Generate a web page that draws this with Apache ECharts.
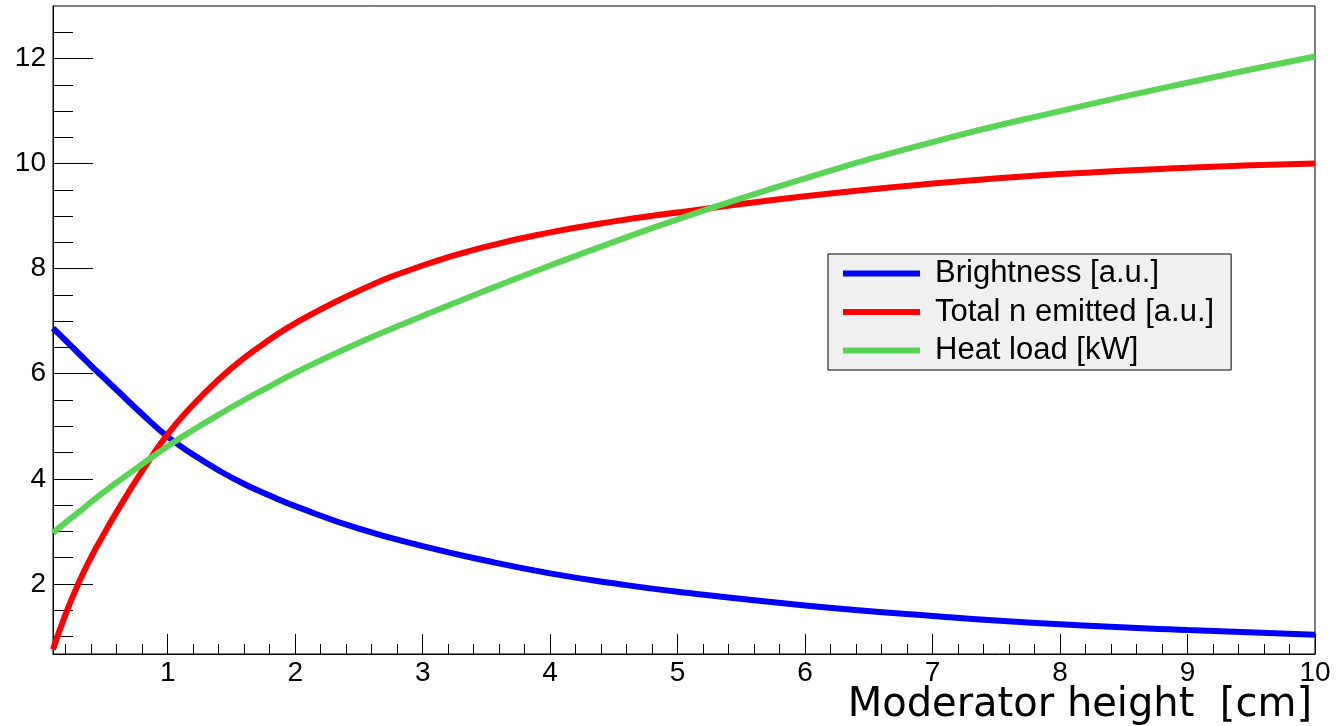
<!DOCTYPE html>
<html>
<head>
<meta charset="utf-8">
<script src="https://cdn.jsdelivr.net/npm/echarts@6/dist/echarts.min.js"></script>
<style>
html,body{margin:0;padding:0;background:#fff;}
#chart{width:1336px;height:726px;}
</style>
</head>
<body>
<div id="chart"></div>
<script>
// ---- data ----
const heights = [0.1,0.2,0.3,0.4,0.5,0.6,0.8,1.0,1.2,1.4,1.6,1.8,2.0,2.5,3,3.5,4,4.5,5,6,7,8,9,10];
const brightness = [6.87,6.63,6.39,6.15,5.92,5.69,5.23,4.8,4.46,4.16,3.9,3.68,3.48,3.05,2.72,2.44,2.2,2.01,1.85,1.59,1.39,1.23,1.12,1.03];
const totalN     = [0.75,1.43,2.01,2.51,2.95,3.37,4.15,4.85,5.41,5.89,6.3,6.65,6.96,7.58,8.06,8.42,8.69,8.9,9.07,9.38,9.62,9.8,9.92,10.0];
const heatLoad   = [2.97,3.17,3.36,3.56,3.75,3.93,4.28,4.62,4.93,5.22,5.5,5.76,6.02,6.59,7.1,7.59,8.06,8.51,8.94,9.72,10.41,11.0,11.54,12.04];
const seriesNames = ['Brightness [a.u.]','Total n emitted [a.u.]','Heat load [kW]'];
const xMajorTicks = [1,2,3,4,5,6,7,8,9,10];
const xMinorTicks = [0.2,0.4,0.6,0.8,1.2,1.4,1.6,1.8,2.2,2.4,2.6,2.8,3.2,3.4,3.6,3.8,4.2,4.4,4.6,4.8,5.2,5.4,5.6,5.8,6.2,6.4,6.6,6.8,7.2,7.4,7.6,7.8,8.2,8.4,8.6,8.8,9.2,9.4,9.6,9.8];
const yMajorTicks = [2,4,6,8,10,12];
const yMinorTicks = [1,1.5,2.5,3,3.5,4.5,5,5.5,6.5,7,7.5,8.5,9,9.5,10.5,11,11.5,12.5];
const xTitle = 'Moderator height  [cm]';

const X_MIN = 0.1, X_MAX = 10, Y_MIN = 0.665, Y_MAX = 13.0;
const colors = ['#0000ff','#ff0000','#59d454'];
const lblFont = 'Liberation Sans, Arial, sans-serif';

function pairs(ys){ return heights.map((x,i)=>[x,ys[i]]); }

const chart = echarts.init(document.getElementById('chart'), null, {renderer:'canvas'});
chart.setOption({
  animation:false,
  backgroundColor:'#fff',
  grid:{left:53,right:21,top:6,bottom:72,containLabel:false,outerBoundsMode:'none',
        show:true,borderColor:'#000',borderWidth:1,backgroundColor:'transparent'},
  legend:{
    orient:'vertical',
    left:828, top:254,
    data:seriesNames,
    icon:'rect',
    itemWidth:77, itemHeight:6, itemGap:7.5,
    padding:[4,17,4,15],
    backgroundColor:'#f0f0f0',
    borderColor:'#000', borderWidth:1,
    textStyle:{fontFamily:lblFont,fontSize:31,color:'#000',lineHeight:30,padding:[0,0,0,10]}
  },
  xAxis:[
    {type:'value',min:X_MIN,max:X_MAX,position:'bottom',
     axisLine:{show:true,lineStyle:{color:'#000',width:1}},
     axisTick:{show:true,inside:true,length:20,customValues:xMajorTicks,lineStyle:{color:'#000',width:1}},
     axisLabel:{show:true,customValues:xMajorTicks,fontFamily:lblFont,fontSize:28,color:'#000',margin:5},
     splitLine:{show:false},
     name:xTitle,nameLocation:'end',nameGap:-3,nameMoveOverlap:false,
     nameTextStyle:{fontFamily:'DejaVu Sans',fontSize:40,color:'#000',align:'right',verticalAlign:'top',lineHeight:40,padding:[32,0,0,0]}
    },
    {type:'value',min:X_MIN,max:X_MAX,position:'bottom',
     axisLine:{show:false},
     axisTick:{show:true,inside:true,length:10,customValues:xMinorTicks,lineStyle:{color:'#000',width:1}},
     axisLabel:{show:false},splitLine:{show:false}}
  ],
  yAxis:[
    {type:'value',min:Y_MIN,max:Y_MAX,position:'left',
     axisLine:{show:true,lineStyle:{color:'#000',width:1}},
     axisTick:{show:true,inside:true,length:40,customValues:yMajorTicks,lineStyle:{color:'#000',width:1}},
     axisLabel:{show:true,customValues:yMajorTicks,fontFamily:lblFont,fontSize:28,color:'#000',margin:7},
     splitLine:{show:false}},
    {type:'value',min:Y_MIN,max:Y_MAX,position:'left',
     axisLine:{show:false},
     axisTick:{show:true,inside:true,length:20,customValues:yMinorTicks,lineStyle:{color:'#000',width:1}},
     axisLabel:{show:false},splitLine:{show:false}}
  ],
  series:[
    {name:seriesNames[0],type:'line',data:pairs(brightness),xAxisIndex:0,yAxisIndex:0,smooth:true,showSymbol:false,color:colors[0],lineStyle:{width:6,color:colors[0]}},
    {name:seriesNames[1],type:'line',data:pairs(totalN),xAxisIndex:0,yAxisIndex:0,smooth:true,showSymbol:false,color:colors[1],lineStyle:{width:6,color:colors[1]}},
    {name:seriesNames[2],type:'line',data:pairs(heatLoad),xAxisIndex:0,yAxisIndex:0,smooth:true,showSymbol:false,color:colors[2],lineStyle:{width:6,color:colors[2]}}
  ]
});
</script>
</body>
</html>
